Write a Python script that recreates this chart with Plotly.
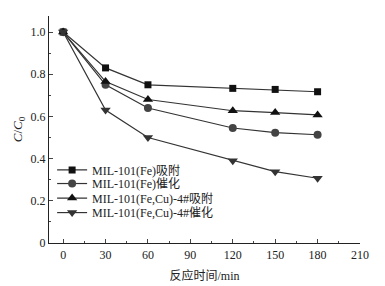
import plotly.graph_objects as go

time_min = [0, 30, 60, 120, 150, 180]
fe_adsorb = [1.0, 0.83, 0.75, 0.733, 0.728, 0.717]
fe_catal = [1.0, 0.75, 0.64, 0.545, 0.523, 0.513]
fecu_adsorb = [1.0, 0.765, 0.68, 0.627, 0.618, 0.607]
fecu_catal = [1.0, 0.63, 0.50, 0.39, 0.338, 0.307]
names = ["MIL-101(Fe)吸附", "MIL-101(Fe)催化", "MIL-101(Fe,Cu)-4#吸附", "MIL-101(Fe,Cu)-4#催化"]
x_ticks = [0, 30, 60, 90, 120, 150, 180, 210]
y_ticks = [0, 0.2, 0.4, 0.6, 0.8, 1.0]
y_ticktext = ["0", "0.2", "0.4", "0.6", "0.8", "1.0"]

series = [fe_adsorb, fe_catal, fecu_adsorb, fecu_catal]
symbols = ["square", "circle", "triangle-up", "triangle-down"]
colors = ["#111111", "#444444", "#111111", "#333333"]
sizes = [7, 8, 9, 9]
legend_ids = ["legend", "legend2", "legend3", "legend4"]
legend_y = [0.322, 0.262, 0.198, 0.134]

font_main = "Times New Roman, Liberation Serif, Noto Sans CJK SC, serif"

fig = go.Figure()
for ys, nm, sym, col, sz, lid in zip(series, names, symbols, colors, sizes, legend_ids):
    fig.add_trace(go.Scatter(
        x=time_min, y=ys, name=nm, mode="lines+markers", legend=lid,
        line=dict(color="#333333", width=1.2),
        marker=dict(symbol=sym, size=sz, color=col),
    ))

legend_layout = {}
for lid, ly in zip(legend_ids, legend_y):
    legend_layout[lid] = dict(x=0.01, y=ly, xanchor="left", yanchor="middle",
                              bgcolor="rgba(0,0,0,0)", itemwidth=30,
                              font=dict(size=12, family=font_main, color="#222222"))

fig.update_layout(
    width=377, height=278,
    margin=dict(l=41, r=25, t=8, b=43, autoexpand=False),
    paper_bgcolor="white", plot_bgcolor="white",
    font=dict(family=font_main, size=12, color="#222222"),
    showlegend=True,
    **legend_layout,
    xaxis=dict(
        range=[-10, 210], tickvals=x_ticks, ticks="inside", ticklen=4,
        showline=True, linecolor="#222222", linewidth=1.2, showgrid=False, zeroline=False,
        minor=dict(ticks="inside", ticklen=2, dtick=15, tick0=0),
        tickfont=dict(size=12), automargin=False,
        title=dict(text="反应时间/min", font=dict(size=12), standoff=11),
    ),
    yaxis=dict(
        range=[0, 1.076], tickvals=y_ticks, ticktext=y_ticktext, ticks="inside", ticklen=4,
        showline=True, linecolor="#222222", linewidth=1.2, showgrid=False, zeroline=False,
        minor=dict(ticks="inside", ticklen=2, dtick=0.1, tick0=0),
        tickfont=dict(size=12), automargin=False,
        title=dict(text="<i>C</i>/<i>C</i><sub>0</sub>", font=dict(size=13), standoff=4),
    ),
)
fig.write_html("out.html")
